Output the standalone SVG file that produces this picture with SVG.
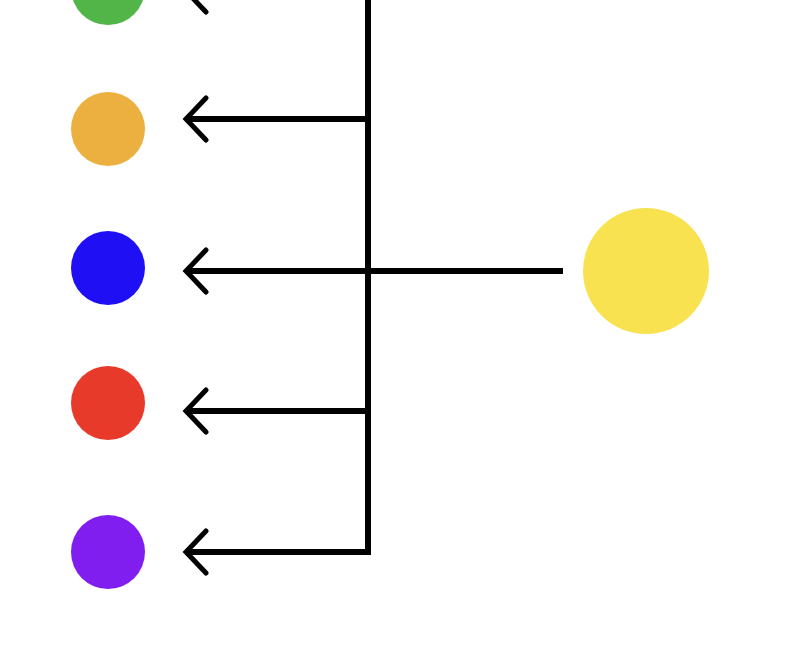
<svg xmlns="http://www.w3.org/2000/svg" width="792" height="650" viewBox="0 0 792 650">
<style>.c{fill:none;stroke:#000;stroke-width:6}.h{fill:none;stroke:#000;stroke-width:5;stroke-linecap:round;stroke-linejoin:miter}</style>
<rect width="792" height="650" fill="#fff"/>
<g id="green"><circle cx="108" cy="-12" r="37" fill="#52b548"/></g>
<g id="orange"><circle cx="108" cy="129" r="37" fill="#ebb040"/></g>
<g id="blue"><circle cx="108" cy="268" r="37" fill="#1e0ff5"/></g>
<g id="red"><circle cx="108" cy="403" r="37" fill="#e83a2a"/></g>
<g id="purple"><circle cx="108" cy="552" r="37" fill="#801ef0"/></g>
<g id="yellow"><circle cx="646" cy="271" r="63" fill="#f9e250"/></g>
<g id="connectors">
<path class="c" d="M368 -5V552H188M368 -9H188M368 119H188M563 271H188M368 411H188"/>
<path class="h" d="M206 -30L186 -9L206 12M206 98L186 119L206 140M206 250L186 271L206 292M206 390L186 411L206 432M206 531L186 552L206 573"/>
</g>
</svg>
